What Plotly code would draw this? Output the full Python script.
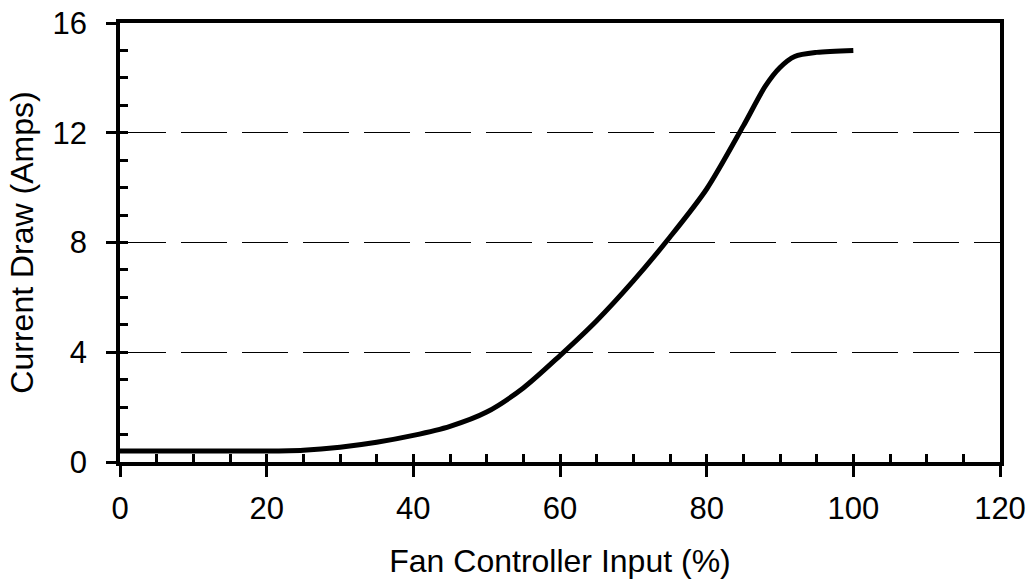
import plotly.graph_objects as go

fan_input = [0, 5, 10, 15, 20, 25, 30, 35, 40, 45, 50, 55, 60, 65, 70, 75, 80, 85, 88, 90, 92, 95, 100]
current_draw = [0.4, 0.4, 0.4, 0.4, 0.4, 0.43, 0.54, 0.72, 0.97, 1.3, 1.82, 2.7, 3.88, 5.15, 6.6, 8.2, 9.95, 12.25, 13.7, 14.38, 14.78, 14.93, 15.0]

x_ticks = [0, 20, 40, 60, 80, 100, 120]
y_ticks = [0, 4, 8, 12, 16]

FONT = "Liberation Sans, Arial, sans-serif"
TICK_SIZE = 31
TITLE_SIZE = 32

fig = go.Figure()
fig.add_trace(go.Scatter(
    x=fan_input, y=current_draw, mode="lines",
    line=dict(color="black", width=5, shape="spline", smoothing=0.8),
    showlegend=False, hoverinfo="skip",
))
# dummy trace for overlay axes (inside minor ticks)
fig.add_trace(go.Scatter(x=[None], y=[None], xaxis="x2", yaxis="y2", showlegend=False, hoverinfo="skip"))

fig.update_layout(
    width=1031, height=579,
    margin=dict(l=120, r=31, t=23, b=117),
    paper_bgcolor="white", plot_bgcolor="white",
    font=dict(family=FONT, size=TICK_SIZE, color="black"),
    xaxis=dict(
        range=[0, 120], tickvals=x_ticks, ticks="outside", ticklen=11, tickwidth=2.5,
        tickcolor="black", showline=True, linecolor="black", linewidth=3.5, mirror=True,
        showgrid=False, zeroline=False, automargin=False, ticklabelstandoff=5,
        ticklabeloverflow="allow",
        title=dict(text="Fan Controller Input (%)", font=dict(size=TITLE_SIZE), standoff=26),
        tickfont=dict(size=TICK_SIZE),
    ),
    yaxis=dict(
        range=[0, 16], tickvals=y_ticks, ticks="outside", ticklen=10, tickwidth=2.5,
        tickcolor="black", showline=True, linecolor="black", linewidth=3.5, mirror=True,
        showgrid=True, gridcolor="black", gridwidth=1, griddash="46px,15px",
        zeroline=False, automargin=False, ticklabelstandoff=13,
        ticklabeloverflow="allow",
        title=dict(text="Current Draw (Amps)", font=dict(size=TITLE_SIZE), standoff=10),
        tickfont=dict(size=TICK_SIZE),
    ),
    xaxis2=dict(
        overlaying="x", matches="x", range=[0, 120], dtick=5, tick0=0,
        ticks="inside", ticklen=8, tickwidth=2.5, tickcolor="black",
        showticklabels=False, showgrid=False, zeroline=False, showline=False,
        side="bottom", automargin=False,
    ),
    yaxis2=dict(
        overlaying="y", matches="y", range=[0, 16], dtick=1, tick0=0,
        ticks="inside", ticklen=8, tickwidth=2.5, tickcolor="black",
        showticklabels=False, showgrid=False, zeroline=False, showline=False,
        side="left", automargin=False,
    ),
)

fig.write_html(
    "out.html",
    config={"displayModeBar": False},
    post_script="document.body.style.margin='0';document.body.style.overflow='hidden';",
)
